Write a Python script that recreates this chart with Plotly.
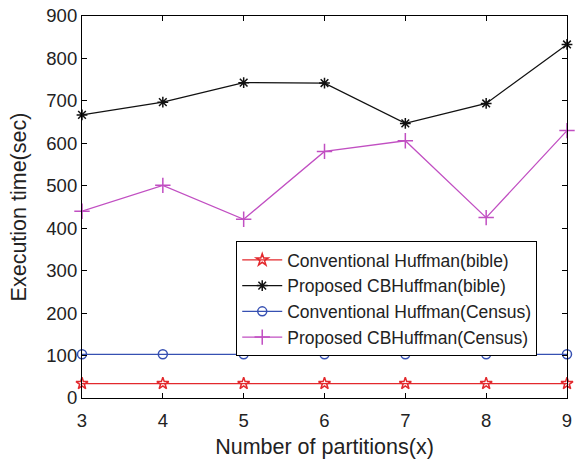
import plotly.graph_objects as go

partitions = [3, 4, 5, 6, 7, 8, 9]
conv_bible = [34, 34, 34, 34, 34, 34, 34]
prop_bible = [667, 697, 743, 742, 647, 694, 833]
conv_census = [103, 103, 103, 103, 103, 103, 103]
prop_census = [440, 501, 421, 581, 606, 425, 630]

names = ["Conventional Huffman(bible)", "Proposed CBHuffman(bible)",
         "Conventional Huffman(Census)", "Proposed CBHuffman(Census)"]
series = [conv_bible, prop_bible, conv_census, prop_census]
colors = ["#e3292d", "#111111", "#3650b2", "#c14fc2"]
symbols = ["star-open", "asterisk-open", "circle-open", "cross-thin-open"]
sizes = [9, 9, 9, 11]

FONT = "Liberation Sans, Arial, Helvetica"

fig = go.Figure()
for n, s, c, sym, sz in zip(names, series, colors, symbols, sizes):
    fig.add_trace(go.Scatter(
        x=partitions, y=s, name=n, mode="lines+markers",
        line=dict(color=c, width=1.3),
        marker=dict(symbol=sym, size=sz, color=c, line=dict(color=c, width=1.5)),
        cliponaxis=False,
    ))

axis_common = dict(
    showgrid=False, zeroline=False, showline=True, linecolor="black",
    linewidth=1.2, mirror="ticks", ticks="inside", ticklen=5,
    tickcolor="black", automargin=False,
    tickfont=dict(family=FONT, size=18.5, color="#222"),
)
fig.update_xaxes(range=[3, 9], dtick=1, ticklabelstandoff=6,
                 title=dict(text="Number of partitions(x)",
                            font=dict(family=FONT, size=21.5, color="#222"), standoff=8),
                 **axis_common)
fig.update_yaxes(range=[0, 900], dtick=100, title=dict(text="Execution time(sec)",
                 font=dict(family=FONT, size=21.5, color="#222"), standoff=13),
                 **axis_common)

fig.update_layout(
    width=578, height=460,
    margin=dict(l=82, r=11, t=16, b=62),
    paper_bgcolor="white", plot_bgcolor="white",
    showlegend=True,
    legend=dict(x=0.318, y=0.411, xanchor="left", yanchor="top",
                bgcolor="white", bordercolor="black", borderwidth=1,
                font=dict(family=FONT, size=17.5, color="#222"),
                tracegroupgap=0, itemwidth=40),
)

fig.write_html("out.html", config={"displayModeBar": False},
               post_script="document.body.style.margin='0';document.body.style.overflow='hidden';")
